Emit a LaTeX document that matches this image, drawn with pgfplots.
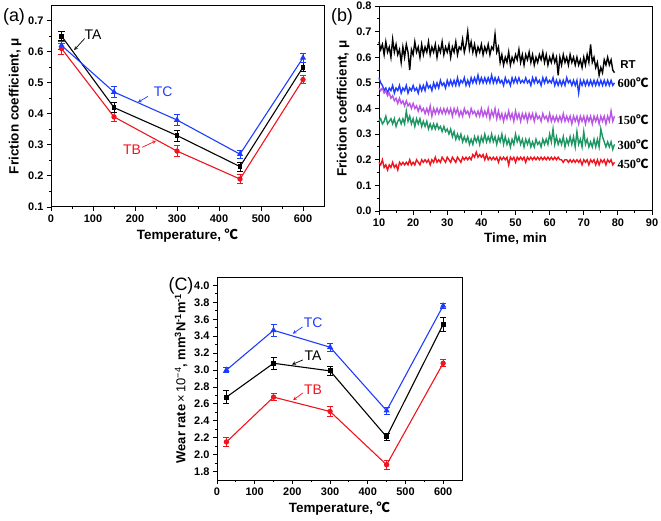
\documentclass[border=0pt]{standalone}
\usepackage{pgfplots}
\pgfplotsset{compat=1.18}
\usepackage{pgfplotstable}
\usepackage{fontspec}
\setmainfont{Liberation Sans}
\newfontfamily\cjk{Noto Sans CJK SC}
\newfontfamily\serifb{Liberation Serif}
\newcommand{\degC}{{\cjk ℃}}
\definecolor{cblue}{RGB}{30,60,255}
\definecolor{cred}{RGB}{240,20,30}
\definecolor{cpurple}{RGB}{185,85,230}
\definecolor{cgreen}{RGB}{30,150,100}

\pgfplotstableread{
x TA TAe TB TBe TC TCe
25 0.65 0.015 0.61 0.018 0.62 0.012
150 0.42 0.015 0.39 0.015 0.47 0.017
300 0.33 0.018 0.28 0.017 0.38 0.017
450 0.23 0.015 0.19 0.015 0.27 0.013
600 0.55 0.015 0.51 0.013 0.58 0.015
}\fric

\pgfplotstableread{
x TA TAe TB TBe TC TCe
25 2.68 0.08 2.15 0.05 3.00 0.03
150 3.08 0.07 2.68 0.04 3.47 0.07
300 2.99 0.05 2.51 0.06 3.27 0.05
450 2.21 0.04 1.88 0.05 2.52 0.04
600 3.54 0.08 3.08 0.04 3.76 0.03
}\wear

\pgfplotstableread{
t rt a b c d
10.0 .66 .52 .48 .35 .19
10.5 .63 .50 .47 .36 .18
11.0 .65 .49 .48 .34 .20
11.5 .61 .47 .46 .35 .17
12.0 .66 .48 .47 .37 .18
12.5 .62 .46 .45 .34 .16
13.0 .64 .48 .46 .35 .18
13.5 .60 .47 .44 .36 .17
14.0 .67 .49 .45 .34 .19
14.5 .62 .46 .43 .36 .17
15.0 .65 .48 .44 .33 .18
15.5 .61 .47 .42 .35 .16
16.0 .63 .49 .44 .36 .19
16.5 .58 .46 .42 .34 .18
17.0 .64 .48 .43 .36 .19
17.5 .60 .47 .41 .34 .18
18.0 .65 .49 .43 .39 .19
18.5 .62 .46 .41 .35 .18
19.0 .55 .48 .42 .37 .20
19.5 .63 .47 .40 .34 .18
20.0 .61 .49 .42 .36 .19
20.5 .66 .47 .40 .33 .18
21.0 .62 .48 .41 .36 .20
21.5 .64 .46 .39 .34 .19
22.0 .60 .49 .41 .36 .18
22.5 .65 .47 .39 .33 .20
23.0 .61 .49 .40 .35 .19
23.5 .64 .47 .38 .33 .20
24.0 .62 .50 .40 .35 .19
24.5 .66 .48 .38 .32 .20
25.0 .61 .49 .41 .34 .18
25.5 .64 .47 .37 .32 .20
26.0 .62 .50 .40 .34 .19
26.5 .65 .48 .38 .32 .21
27.0 .60 .50 .40 .34 .19
27.5 .64 .48 .38 .32 .20
28.0 .62 .51 .40 .33 .19
28.5 .66 .49 .38 .31 .21
29.0 .61 .50 .40 .33 .20
29.5 .64 .48 .38 .31 .19
30.0 .62 .51 .40 .32 .21
30.5 .65 .49 .38 .30 .20
31.0 .60 .51 .40 .32 .19
31.5 .64 .49 .37 .29 .21
32.0 .62 .51 .40 .31 .20
32.5 .66 .49 .38 .28 .19
33.0 .61 .52 .40 .30 .21
33.5 .64 .49 .37 .28 .20
34.0 .63 .51 .39 .30 .19
34.5 .67 .50 .37 .27 .21
35.0 .62 .52 .40 .29 .20
35.5 .65 .49 .38 .27 .21
36.0 .70 .51 .39 .29 .20
36.5 .63 .49 .37 .26 .21
37.0 .66 .52 .40 .28 .20
37.5 .62 .50 .38 .26 .22
38.0 .65 .52 .39 .29 .21
38.5 .61 .50 .37 .27 .23
39.0 .64 .53 .39 .29 .21
39.5 .62 .50 .37 .26 .22
40.0 .65 .52 .40 .29 .21
40.5 .61 .50 .37 .27 .22
41.0 .64 .52 .39 .30 .20
41.5 .62 .50 .37 .27 .22
42.0 .65 .52 .40 .29 .20
42.5 .61 .50 .36 .27 .21
43.0 .64 .53 .39 .30 .20
43.5 .63 .50 .37 .27 .21
44.0 .69 .52 .40 .29 .20
44.5 .62 .50 .36 .26 .21
45.0 .64 .52 .39 .29 .19
45.5 .58 .50 .36 .27 .21
46.0 .61 .51 .38 .30 .20
46.5 .57 .49 .35 .26 .21
47.0 .60 .52 .38 .29 .20
47.5 .58 .50 .36 .26 .21
48.0 .62 .51 .39 .28 .18
48.5 .57 .49 .36 .25 .21
49.0 .60 .52 .38 .28 .20
49.5 .58 .50 .35 .26 .21
50.0 .61 .52 .39 .30 .19
50.5 .59 .50 .36 .27 .21
51.0 .63 .52 .38 .29 .20
51.5 .58 .50 .35 .26 .21
52.0 .61 .51 .38 .28 .20
52.5 .57 .50 .36 .25 .21
53.0 .61 .52 .38 .28 .19
53.5 .59 .50 .35 .26 .21
54.0 .62 .51 .38 .28 .20
54.5 .58 .49 .36 .25 .21
55.0 .61 .52 .38 .27 .20
55.5 .57 .50 .35 .25 .21
56.0 .60 .52 .38 .28 .20
56.5 .58 .50 .36 .26 .21
57.0 .61 .51 .37 .27 .20
57.5 .59 .49 .35 .25 .21
58.0 .62 .52 .38 .28 .20
58.5 .58 .50 .36 .26 .21
59.0 .61 .52 .37 .28 .20
59.5 .57 .50 .35 .26 .21
60.0 .60 .51 .38 .30 .20
60.5 .58 .50 .35 .27 .21
61.0 .61 .52 .37 .32 .20
61.5 .58 .49 .35 .26 .21
62.0 .60 .51 .37 .29 .20
62.5 .53 .49 .35 .26 .21
63.0 .60 .51 .37 .28 .20
63.5 .57 .49 .35 .26 .20
64.0 .61 .51 .38 .29 .19
64.5 .58 .49 .35 .25 .20
65.0 .60 .52 .37 .28 .20
65.5 .57 .50 .35 .26 .19
66.0 .61 .51 .37 .29 .20
66.5 .58 .49 .34 .26 .19
67.0 .60 .51 .37 .29 .20
67.5 .57 .49 .35 .25 .19
68.0 .60 .51 .37 .31 .20
68.5 .57 .46 .34 .26 .19
69.0 .59 .51 .37 .28 .20
69.5 .56 .49 .35 .25 .18
70.0 .60 .51 .37 .31 .20
70.5 .57 .49 .34 .26 .19
71.0 .61 .51 .37 .28 .20
71.5 .58 .49 .35 .25 .18
72.0 .65 .51 .37 .27 .20
72.5 .58 .49 .34 .25 .19
73.0 .60 .51 .37 .28 .20
73.5 .56 .49 .35 .25 .18
74.0 .58 .51 .37 .28 .20
74.5 .53 .49 .34 .25 .18
75.0 .56 .51 .37 .32 .20
75.5 .54 .49 .35 .29 .19
76.0 .59 .51 .37 .27 .20
76.5 .57 .49 .34 .25 .18
77.0 .60 .51 .37 .27 .20
77.5 .57 .49 .35 .25 .19
78.0 .59 .51 .39 .27 .20
78.5 .55 .49 .35 .24 .18
79.0 .54 .50 .37 .26 .19
}\timeser

\pgfplotsset{
  myax/.style={
    scale only axis, anchor=south west, clip=false,
    axis line style={line width=1pt},
    tick pos=left, tick align=outside,
    major tick length=4bp, minor tick length=2.2bp,
    every tick/.style={black, line width=0.9pt},
    ticklabel style={font=\fontsize{11}{12}\selectfont\bfseries},
    label style={font=\fontsize{13.5}{15}\selectfont\bfseries},
    /pgf/number format/assume math mode=true,
    minor x tick num=1, minor y tick num=1,
    yticklabel style={/pgf/number format/.cd, fixed, fixed zerofill, precision=1},
  },
  ebar/.style={error bars/.cd, y dir=both, y explicit,
    error bar style={line width=0.8pt},
    error mark options={rotate=90, mark size=3bp, line width=0.8pt}},
}
\tikzset{ann/.style={font=\fontsize{14}{16}\selectfont},
  tl/.style={anchor=west, inner sep=1.5bp, font=\fontsize{12.5}{13}\selectfont\serifb\bfseries}}

\begin{document}
\begin{tikzpicture}
\path[use as bounding box] (0,0) rectangle (661bp,521bp);

% (a)
\begin{axis}[myax, at={(51bp,314bp)}, width=273bp, height=202bp,
  xmin=0, xmax=650, ymin=0.1, ymax=0.75,
  xtick={0,100,...,600}, ytick={0.1,0.2,...,0.71},
  xlabel={Temperature, \degC}, ylabel={Friction coefficient, μ}]
\addplot[cred, line width=1.1pt, mark=*, mark size=2.1bp, ebar] table[x=x, y=TB, y error=TBe]{\fric};
\addplot[black, line width=1.1pt, mark=square*, mark size=1.9bp, ebar] table[x=x, y=TA, y error=TAe]{\fric};
\addplot[cblue, line width=1.1pt, mark=triangle*, mark size=2.5bp, ebar] table[x=x, y=TC, y error=TCe]{\fric};
\node[ann, black] at (axis cs:100,0.655) {TA};
\draw[-stealth, black, line width=0.7pt] (axis cs:80,0.642) -- (axis cs:55,0.605);
\node[ann, cblue] at (axis cs:267,0.47) {TC};
\draw[-stealth, cblue, line width=0.7pt] (axis cs:231,0.456) -- (axis cs:207,0.437);
\node[ann, cred] at (axis cs:193,0.283) {TB};
\draw[-stealth, cred, line width=0.7pt] (axis cs:217,0.292) -- (axis cs:250,0.313);
\end{axis}

% (b)
\begin{axis}[myax, at={(379bp,310bp)}, width=273bp, height=205bp,
  xmin=10, xmax=90, ymin=0, ymax=0.8,
  xtick={10,20,...,90}, ytick={0,0.1,...,0.81},
  xlabel={Time, min}, ylabel={Friction coefficient, μ}]
\addplot[black, line width=1.4pt] table[x=t, y=rt]{\timeser};
\addplot[cblue, line width=1.4pt] table[x=t, y=a]{\timeser};
\addplot[cpurple, line width=1.4pt] table[x=t, y=b]{\timeser};
\addplot[cgreen, line width=1.4pt] table[x=t, y=c]{\timeser};
\addplot[cred, line width=1.4pt] table[x=t, y=d]{\timeser};
\node[anchor=west, inner sep=1.5bp, font=\fontsize{11.5}{12}\selectfont\bfseries] at (axis cs:80.2,0.57) {RT};
\node[tl] at (axis cs:79.4,0.50) {600\degC};
\node[tl] at (axis cs:79.4,0.355) {150\degC};
\node[tl] at (axis cs:79.4,0.257) {300\degC};
\node[tl] at (axis cs:79.4,0.183) {450\degC};
\end{axis}

% (c)
\begin{axis}[myax, at={(217bp,41bp)}, width=245bp, height=203bp,
  xmin=0, xmax=650, ymin=1.7, ymax=4.1,
  xtick={0,100,...,600}, ytick={1.8,2.0,...,4.01},
  xlabel={Temperature, \degC},
  ylabel style={font=\fontsize{13}{14}\selectfont\bfseries},
  ylabel={Wear rate\,{\mdseries×}\,{\mdseries 10\textsuperscript{−4}}, mm\textsuperscript{3}N\textsuperscript{-1}m\textsuperscript{-1}}]
\addplot[cred, line width=1.1pt, mark=*, mark size=2.1bp, ebar] table[x=x, y=TB, y error=TBe]{\wear};
\addplot[black, line width=1.1pt, mark=square*, mark size=1.9bp, ebar] table[x=x, y=TA, y error=TAe]{\wear};
\addplot[cblue, line width=1.1pt, mark=triangle*, mark size=2.5bp, ebar] table[x=x, y=TC, y error=TCe]{\wear};
\node[ann, cblue] at (axis cs:255,3.556) {TC};
\draw[-stealth, cblue, line width=0.7pt] (axis cs:227,3.51) -- (axis cs:201,3.43);
\node[ann, black] at (axis cs:255,3.17) {TA};
\draw[-stealth, black, line width=0.7pt] (axis cs:228,3.12) -- (axis cs:199,3.065);
\node[ann, cred] at (axis cs:255,2.766) {TB};
\draw[-stealth, cred, line width=0.7pt] (axis cs:228,2.73) -- (axis cs:202,2.645);
\end{axis}

\node[font=\fontsize{18}{20}\selectfont] at (14bp,504bp) {(a)};
\node[font=\fontsize{18}{20}\selectfont] at (342bp,504bp) {(b)};
\node[font=\fontsize{18}{20}\selectfont] at (181bp,235bp) {(C)};
\end{tikzpicture}
\end{document}
